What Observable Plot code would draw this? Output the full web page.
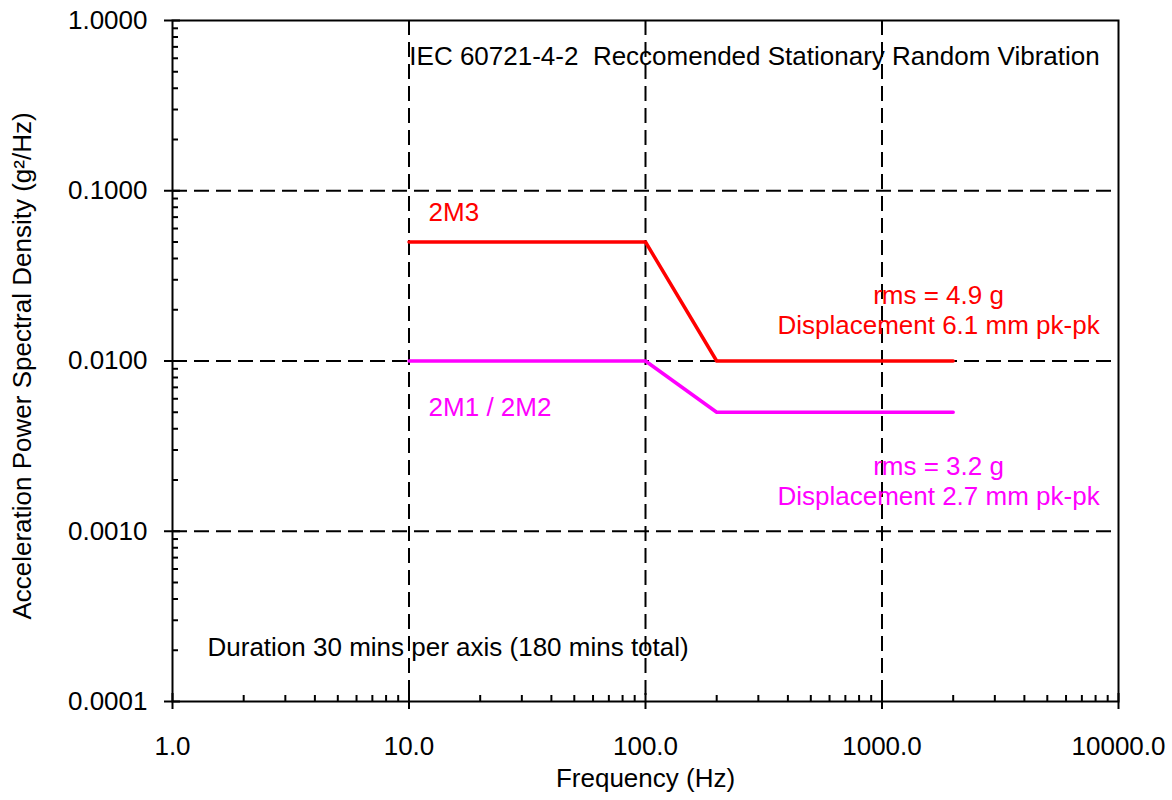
<!DOCTYPE html>
<html>
<head>
<meta charset="utf-8">
<script src="https://cdn.jsdelivr.net/npm/d3@7"></script>
<script src="https://cdn.jsdelivr.net/npm/@observablehq/plot@0.6"></script>
<style>
  html, body { margin: 0; padding: 0; background: #fff; }
  svg text { white-space: pre; }
</style>
</head>
<body>
<div id="chart"></div>
<script>
// Series
const freq2M3 = [10, 100, 200, 2000];
const psd2M3 = [0.05, 0.05, 0.01, 0.01];
const freq2M1 = [10, 100, 200, 2000];
const psd2M1 = [0.01, 0.01, 0.005, 0.005];

// Axes ticks
const xTicks = [1, 10, 100, 1000, 10000];
const yTicks = [0.0001, 0.001, 0.01, 0.1, 1];
const xGrid = [10, 100, 1000];
const yGrid = [0.001, 0.01, 0.1];

// Annotations (data coordinates)
const centeredNotes = [
  {text: "IEC 60721-4-2  Reccomended Stationary Random Vibration", x: 289, y: 0.623, color: "#000000"},
  {text: "rms = 4.9 g\nDisplacement 6.1 mm pk-pk", x: 1734, y: 0.0201, color: "#FF0000"},
  {text: "rms = 3.2 g\nDisplacement 2.7 mm pk-pk", x: 1734, y: 0.00200, color: "#FF00FF"}
];
const leftNotes = [
  {text: "2M3", x: 12.1, y: 0.0745, color: "#FF0000"},
  {text: "2M1 / 2M2", x: 12.1, y: 0.00533, color: "#FF00FF"},
  {text: "Duration 30 mins per axis (180 mins total)", x: 1.406, y: 0.000207, color: "#000000"}
];

const rows2M3 = freq2M3.map((f, i) => ({f, p: psd2M3[i]}));
const rows2M1 = freq2M1.map((f, i) => ({f, p: psd2M1[i]}));

const minorX = [];
for (let d = 1; d < 10000; d *= 10) for (let k = 2; k <= 9; k++) minorX.push(d * k);
const minorY = [];
for (let d = 0.0001; d < 0.9; d *= 10) for (let k = 2; k <= 9; k++) minorY.push(+(d * k).toPrecision(3));

const W = 1172, H = 800, ML = 172, MR = 54, MT = 20, MB = 99;
const PW = W - ML - MR, PH = H - MT - MB;
const FS = 26;

const chart = Plot.plot({
  width: W, height: H,
  marginLeft: ML, marginRight: MR, marginTop: MT, marginBottom: MB,
  style: {fontFamily: "'Liberation Sans', Arial, sans-serif", fontSize: FS + "px", background: "#fff", color: "#000"},
  x: {type: "log", domain: [1, 10000]},
  y: {type: "log", domain: [0.0001, 1]},
  marks: [
    Plot.ruleX(xGrid, {stroke: "#000", strokeWidth: 2, strokeDasharray: "15,7"}),
    Plot.ruleY(yGrid, {stroke: "#000", strokeWidth: 2, strokeDasharray: "15,7"}),
    Plot.frame({stroke: "#000", strokeWidth: 2}),
    // inner minor ticks
    Plot.ruleX(minorX, {stroke: "#000", strokeWidth: 2, insetTop: PH - 6}),
    Plot.ruleY(minorY, {stroke: "#000", strokeWidth: 2, insetRight: PW - 6}),
    // inner part of major ticks
    Plot.ruleX(xTicks, {stroke: "#000", strokeWidth: 2, insetTop: PH - 8}),
    Plot.ruleY(yTicks, {stroke: "#000", strokeWidth: 2, insetRight: PW - 8}),
    Plot.axisX(xTicks, {tickSize: 8, tickPadding: 27, strokeWidth: 2, tickFormat: d => d.toFixed(1), label: null, fontSize: FS}),
    Plot.axisY(yTicks, {tickSize: 8, tickPadding: 17, strokeWidth: 2, tickFormat: d => d.toFixed(4), label: null, fontSize: FS}),
    Plot.line(rows2M3, {x: "f", y: "p", stroke: "#FF0000", strokeWidth: 3.5}),
    Plot.line(rows2M1, {x: "f", y: "p", stroke: "#FF00FF", strokeWidth: 3.5}),
    Plot.text(centeredNotes, {x: "x", y: "y", text: "text", fill: "color", textAnchor: "middle", lineAnchor: "middle", lineHeight: 1.154, fontSize: FS}),
    Plot.text(leftNotes, {x: "x", y: "y", text: "text", fill: "color", textAnchor: "start", lineAnchor: "middle", fontSize: FS}),
    Plot.text(["Frequency (Hz)"], {frameAnchor: "bottom", text: d => d, dy: 77, textAnchor: "middle", lineAnchor: "middle", fontSize: FS, fill: "#000"}),
    Plot.text(["Acceleration Power Spectral Density (g\u00b2/Hz)"], {frameAnchor: "left", text: d => d, rotate: -90, dx: -150, dy: 5, textAnchor: "middle", lineAnchor: "middle", fontSize: FS, fill: "#000"})
  ]
});
document.getElementById("chart").appendChild(chart);
</script>
</body>
</html>
